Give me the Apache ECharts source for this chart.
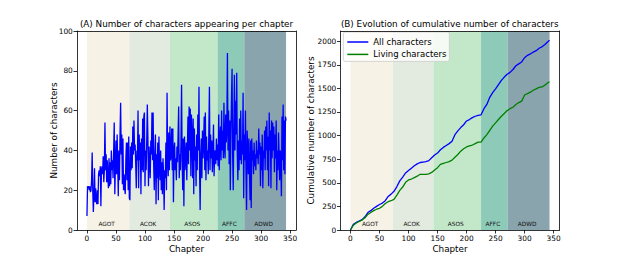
<!DOCTYPE html>
<html>
<head>
<meta charset="utf-8">
<script src="https://cdn.jsdelivr.net/npm/echarts@6/dist/echarts.min.js"></script>
<style>
html,body{margin:0;padding:0;background:#fff;}
#chart{width:621px;height:259px;}
</style>
</head>
<body>
<div id="chart"></div>
<script>
// ---- Data ----
// (A) characters appearing per chapter, chapters 0..343
const perChapter = [
  7,22,21,22,20,22,19,20,25,39,20,9,18,31,14,21,15,13,20,13,28,30,27,32,12,30,32,28,37,24,30,54,30,38,24,35,26,21,36,22,34,23,40,30,35,26,40,54,18,32,45,28,48,33,17,40,25,48,64,38,48,23,46,20,28,21,18,35,44,25,44,20,47,
  16,15,42,30,44,31,52,38,55,40,43,33,21,40,35,60,21,48,35,44,18,46,30,56,29,57,59,22,40,30,45,63,46,22,42,34,26,45,38,59,35,59,32,20,38,48,13,38,26,44,15,47,33,25,40,20,34,18,36,28,10,30,26,44,20,69,35,27,49,30,
  52,35,38,51,30,51,14,40,44,30,36,25,42,34,48,62,26,38,30,45,73,35,20,46,12,47,30,36,44,25,40,57,33,62,40,61,27,58,47,26,56,18,51,35,42,22,48,30,58,40,72,30,10,38,46,26,50,36,44,57,30,59,25,47,35,40,28,50,72,30,48,36,45,29,38,53,27,38,40,33,46,35,
  43,32,58,30,45,52,35,60,40,50,36,64,42,36,58,44,50,89,40,60,33,55,20,48,66,81,38,20,50,78,40,65,48,79,38,25,45,30,56,35,60,33,45,38,69,16,
  48,35,60,30,10,50,40,28,46,30,15,45,11,46,35,40,28,44,32,38,30,45,36,40,33,51,38,44,22,42,30,48,21,40,36,50,30,52,40,55,30,47,22,59,40,50,21,55,36,54,40,52,29,48,36,55,20,40,30,49,38,25,40,34,17,57,35,63,30,55,28,57,55
];
// (B) cumulative number of characters, sampled chapters
const cumChapters = [0,5,10,15,20,25,30,35,40,45,50,55,60,65,70,75,80,85,90,95,100,105,110,115,120,125,130,135,140,145,150,155,160,165,170,175,180,185,190,195,200,205,210,215,220,225,230,235,240,245,250,255,260,265,270,275,280,285,290,295,300,305,310,315,320,325,330,335,340,343];
const allChars = [0,60,80,95,110,140,185,205,230,250,270,285,310,355,380,410,460,520,560,605,630,655,680,700,715,720,725,735,765,795,815,850,875,895,915,940,1010,1050,1085,1115,1155,1170,1190,1205,1215,1220,1285,1330,1405,1455,1495,1540,1585,1620,1650,1670,1700,1740,1760,1780,1825,1850,1865,1885,1900,1925,1940,1965,1995,2010];
const livingChars = [0,50,75,90,105,130,165,185,205,220,230,250,280,300,310,325,370,420,455,505,530,540,555,570,590,590,590,595,610,635,660,695,705,715,725,740,770,800,835,860,880,890,900,915,930,930,975,1010,1055,1100,1135,1170,1205,1235,1265,1285,1300,1330,1350,1365,1430,1445,1460,1480,1495,1510,1515,1535,1560,1570];
// books
const bookNames = ['AGOT','ACOK','ASOS','AFFC','ADWD'];
const bookStarts = [0,73,143,225,271];
const bookEnds = [73,143,225,271,343];
// ticks
const xTicks = [0,50,100,150,200,250,300,350];
const yTicksA = [0,20,40,60,80,100];
const yTicksB = [0,250,500,750,1000,1250,1500,1750,2000];

// ---- Styles ----
const bookColors = ['#f7f2e6','#e3ebe0','#c3e8c9','#8ecab8','#89a4ad'];
const FONT = 'DejaVu Sans';

const chart = echarts.init(document.getElementById('chart'), null, {renderer:'svg'});

function areas(){
  return bookNames.map((n,i)=>[
    {name:n, xAxis:bookStarts[i], itemStyle:{color:bookColors[i], opacity:1}},
    {xAxis:bookEnds[i]}
  ]);
}
const plain = v => String(v);
function xAxisMain(g){
  return {type:'value', gridIndex:g, min:-17.15, max:360.15, z:5,
    name:'Chapter', nameLocation:'middle', nameGap:14, nameMoveOverlap:false,
    nameTextStyle:{fontFamily:FONT, fontSize:8.8, color:'#000'},
    axisLine:{show:true, onZero:false, lineStyle:{color:'#000', width:0.8}},
    axisTick:{show:true, length:3.5, lineStyle:{color:'#000', width:0.8}, customValues:xTicks},
    axisLabel:{fontFamily:FONT, fontSize:7.4, color:'#000', margin:4.5, customValues:xTicks, formatter:plain},
    splitLine:{show:false}};
}
function xAxisTop(g){
  return {type:'value', gridIndex:g, position:'top', min:-17.15, max:360.15, z:5,
    axisLine:{show:true, onZero:false, lineStyle:{color:'#000', width:0.8}},
    axisTick:{show:false}, axisLabel:{show:false}, splitLine:{show:false}};
}
function yAxisMain(g, max, ticks, name, gap){
  return {type:'value', gridIndex:g, min:0, max:max, z:5,
    name:name, nameLocation:'middle', nameRotate:90, nameGap:gap, nameMoveOverlap:false,
    nameTextStyle:{fontFamily:FONT, fontSize:8.8, color:'#000'},
    axisLine:{show:true, onZero:false, lineStyle:{color:'#000', width:0.8}},
    axisTick:{show:true, length:3.5, lineStyle:{color:'#000', width:0.8}, customValues:ticks},
    axisLabel:{fontFamily:FONT, fontSize:7.4, color:'#000', margin:4.2, customValues:ticks, formatter:plain},
    splitLine:{show:false}};
}
function yAxisRight(g, max){
  return {type:'value', gridIndex:g, position:'right', min:0, max:max, z:5,
    axisLine:{show:true, onZero:false, lineStyle:{color:'#000', width:0.8}},
    axisTick:{show:false}, axisLabel:{show:false}, splitLine:{show:false}};
}
const markAreaCfg = {
  silent:true,
  label:{show:true, position:'insideBottom', distance:3, offset:[-1.5,0], fontFamily:FONT, fontSize:5.8, color:'#111'},
  data: areas()
};

const option = {
  animation:false,
  backgroundColor:'#fff',
  textStyle:{fontFamily:FONT},
  graphic:[
    {type:'text', x:186.5, y:24, style:{text:'(A) Number of characters appearing per chapter', textAlign:'center', textVerticalAlign:'middle', fontFamily:FONT, fontSize:8.8, fill:'#000'}},
    {type:'text', x:449.7, y:24, style:{text:'(B) Evolution of cumulative number of characters', textAlign:'center', textVerticalAlign:'middle', fontFamily:FONT, fontSize:8.8, fill:'#000'}}
  ],
  grid:[
    {left:77, top:31, width:219, height:199, outerBoundsMode:'none'},
    {left:340.5, top:31, width:219, height:199, outerBoundsMode:'none'}
  ],
  xAxis:[xAxisMain(0), xAxisTop(0), xAxisMain(1), xAxisTop(1)],
  yAxis:[
    yAxisMain(0, 100, yTicksA, 'Number of characters', 19),
    yAxisRight(0, 100),
    yAxisMain(1, 2108, yTicksB, 'Cumulative number of characters', 25.5),
    yAxisRight(1, 2108)
  ],
  legend:{
    data:[{name:'All characters', icon:'rect'},{name:'Living characters', icon:'rect'}],
    orient:'vertical', left:343.3, top:32,
    backgroundColor:'rgba(255,255,255,0.8)', borderColor:'#cccccc', borderWidth:0.8, borderRadius:2,
    padding:[5,3,2,4], itemWidth:21, itemHeight:1.5, itemGap:2.4,
    textStyle:{fontFamily:FONT, fontSize:8.5, color:'#000', lineHeight:10}
  },
  series:[
    {type:'line', name:'_spansA', xAxisIndex:0, yAxisIndex:0, data:[], z:1, markArea:markAreaCfg},
    {type:'line', name:'perChapter', xAxisIndex:0, yAxisIndex:0, z:3,
      data: perChapter.map((v,i)=>[i,v]), symbol:'none',
      lineStyle:{color:'#0000ff', width:1.3}, itemStyle:{color:'#0000ff'}},
    {type:'line', name:'_spansB', xAxisIndex:2, yAxisIndex:2, data:[], z:1, markArea:markAreaCfg},
    {type:'line', name:'All characters', xAxisIndex:2, yAxisIndex:2, z:3,
      data: cumChapters.map((c,i)=>[c,allChars[i]]), symbol:'none',
      lineStyle:{color:'#0000ff', width:1.3}, itemStyle:{color:'#0000ff'}},
    {type:'line', name:'Living characters', xAxisIndex:2, yAxisIndex:2, z:3,
      data: cumChapters.map((c,i)=>[c,livingChars[i]]), symbol:'none',
      lineStyle:{color:'#008000', width:1.3}, itemStyle:{color:'#008000'}}
  ]
};
chart.setOption(option);
</script>
</body>
</html>
